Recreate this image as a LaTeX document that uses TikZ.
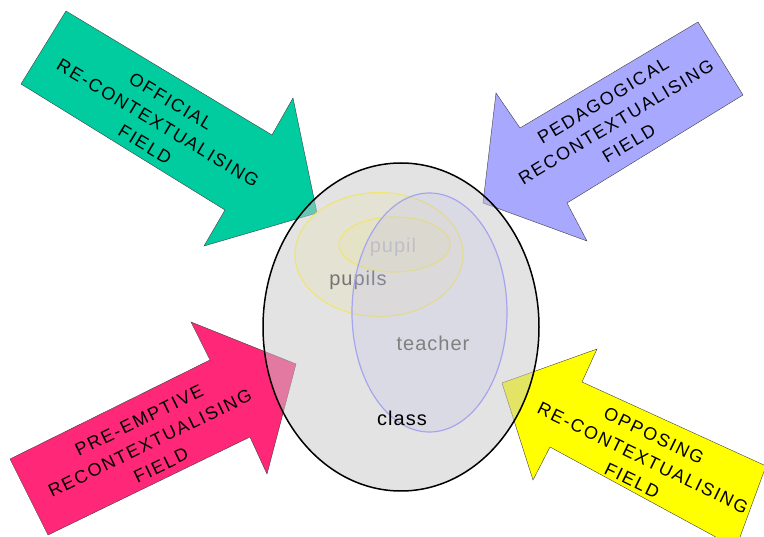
\documentclass[tikz,border=0pt]{standalone}
\usepackage{fontspec}
\setmainfont{Liberation Sans}
\newfontfamily\fieldfont[LetterSpace=10]{Liberation Sans}
\newfontfamily\setfont[LetterSpace=5]{Liberation Sans}
\definecolor{official}{RGB}{0,204,160}
\definecolor{pedagogic}{RGB}{168,168,255}
\definecolor{preempt}{RGB}{255,40,120}
\definecolor{opposing}{RGB}{255,255,0}
\definecolor{classfill}{RGB}{200,200,200}
\definecolor{pupilline}{RGB}{238,228,120}
\definecolor{teacherline}{RGB}{165,165,238}
\definecolor{teacherfill}{RGB}{190,190,235}
\tikzset{
  field/.style={draw=black!75, thin, line join=miter},
  fieldtext/.style={font=\fieldfont\fontsize{18}{25}\selectfont, align=center, inner sep=0pt},
  setlabel/.style={font=\setfont\fontsize{20}{22}\selectfont, inner sep=0pt}
}

\begin{document}
\begin{tikzpicture}[x=1pt, y=-1pt]
\clip (0,0) rectangle (764,537);

% Draw the four fields.
\filldraw[field, fill=official]
(66,11) -- (272,135) -- (293,98) -- (317,213) -- (204,246) -- (225,210) -- (21,84) -- cycle;
\filldraw[field, fill=pedagogic]
(698,22) -- (743,95) -- (567,203) -- (587,241) -- (483,203) -- (496,93) -- (520,128) -- cycle;
\filldraw[field, fill=preempt]
(10,459) -- (210,360) -- (191,322) -- (296,364) -- (267,474) -- (250,437) -- (48,535) -- cycle;
\filldraw[field, fill=opposing]
(502,383) -- (597,349) -- (582,382) -- (766,466) -- (736,548) -- (550,447) -- (533,480) -- cycle;

\node[fieldtext, rotate=-31] (official) at (158,123) {OFFICIAL\\RE-CONTEXTUALISING\\FIELD};
\node[fieldtext, rotate=31] (pedagogical) at (616,122) {PEDAGOGICAL\\RECONTEXTUALISING\\FIELD};
\node[fieldtext, rotate=26] (preemptive) at (150,443) {PRE-EMPTIVE\\RECONTEXTUALISING\\FIELD};
\node[fieldtext, rotate=-26] (opposing) at (643,458) {OPPOSING\\RE-CONTEXTUALISING\\FIELD};

% Draw the class.
\draw[line width=1.5pt, fill=classfill, fill opacity=0.5]
(401,327) ellipse [x radius=138, y radius=164];

% Draw pupils.
\draw[pupilline, line width=1.2pt, fill=pupilline, fill opacity=0.15]
(379,254.5) ellipse [x radius=84, y radius=62];
\draw[pupilline, line width=1.2pt, fill=pupilline, fill opacity=0.15]
(394.5,244.5) ellipse [x radius=55.5, y radius=27.5];
\node[setlabel, text=black!25] (pupil) at (393,247) {pupil};
\node[setlabel, text=black!55] (pupils) at (358,280) {pupils};

% Draw teacher.
\draw[teacherline, line width=1.2pt, fill=teacherfill, fill opacity=0.25]
(429.5,312.5) ellipse [x radius=77.5, y radius=119.5];
\node[setlabel, text=black!50] (teacher) at (433,343) {teacher};
\node[setlabel] (class) at (402,418) {class};

\end{tikzpicture}
\end{document}
